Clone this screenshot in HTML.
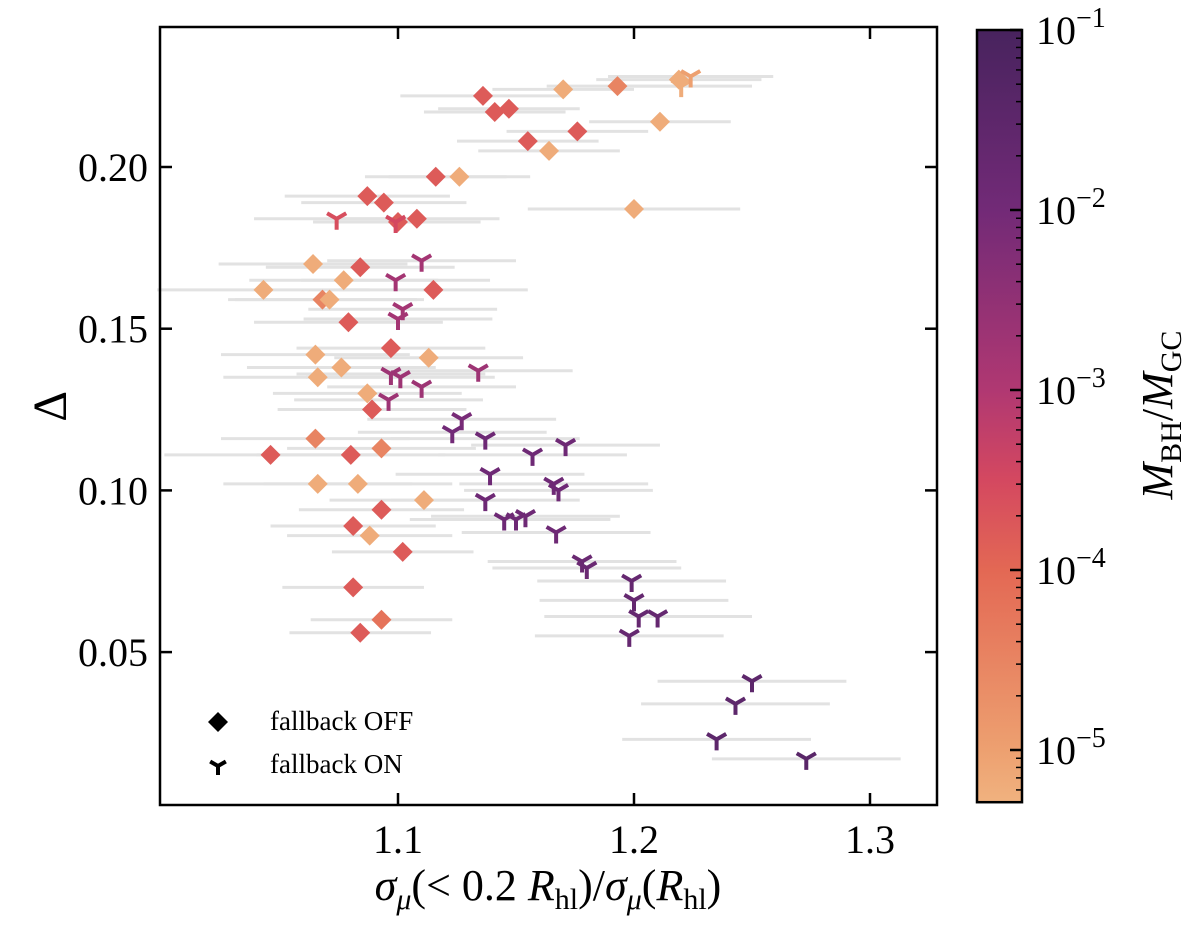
<!DOCTYPE html>
<html><head><meta charset="utf-8"><style>
body{margin:0;background:#fff}
svg text{font-family:"Liberation Serif",serif;fill:#000}
</style></head><body>
<svg id="c" width="1200" height="934" xmlns="http://www.w3.org/2000/svg"></svg>
<script>
// data: [x, y, xerr, log10(M_BH/M_GC)]
const offPts=[[1.170,0.224,0.03,-5.2],[1.136,0.222,0.035,-3.8],[1.141,0.217,0.03,-3.8],[1.147,0.218,0.03,-3.8],[1.193,0.225,0.03,-4.5],[1.219,0.227,0.035,-5.2],[1.211,0.214,0.03,-5.2],[1.155,0.208,0.03,-3.8],[1.164,0.205,0.03,-5.2],[1.176,0.211,0.03,-3.8],[1.116,0.197,0.03,-3.8],[1.126,0.197,0.03,-5.2],[1.200,0.187,0.045,-5.2],[1.087,0.191,0.035,-3.8],[1.094,0.189,0.035,-3.8],[1.100,0.183,0.035,-3.8],[1.108,0.184,0.035,-3.8],[1.064,0.170,0.04,-5.2],[1.084,0.169,0.04,-3.8],[1.077,0.165,0.04,-5.2],[1.043,0.162,0.045,-5.2],[1.068,0.159,0.04,-4.5],[1.071,0.159,0.04,-5.2],[1.115,0.162,0.04,-3.8],[1.079,0.152,0.04,-3.8],[1.097,0.144,0.04,-3.8],[1.065,0.142,0.04,-5.2],[1.076,0.138,0.04,-5.2],[1.066,0.135,0.04,-5.2],[1.113,0.141,0.04,-5.2],[1.087,0.130,0.04,-5.2],[1.089,0.125,0.04,-3.8],[1.046,0.111,0.045,-3.8],[1.065,0.116,0.04,-4.5],[1.093,0.113,0.04,-4.5],[1.080,0.111,0.04,-3.8],[1.083,0.102,0.04,-5.2],[1.066,0.102,0.04,-5.2],[1.111,0.097,0.04,-5.2],[1.093,0.094,0.035,-3.8],[1.081,0.089,0.035,-3.8],[1.088,0.086,0.035,-5.2],[1.102,0.081,0.03,-3.8],[1.081,0.070,0.03,-3.8],[1.093,0.060,0.03,-4.2],[1.084,0.056,0.03,-3.8]];
const onPts=[[1.220,0.225,0.03,-5.2],[1.224,0.228,0.035,-5.0],[1.074,0.184,0.035,-3.6],[1.099,0.183,0.035,-3.5],[1.110,0.171,0.04,-2.8],[1.099,0.165,0.04,-2.8],[1.102,0.156,0.04,-2.8],[1.100,0.153,0.04,-2.8],[1.097,0.136,0.04,-2.7],[1.101,0.135,0.04,-2.7],[1.110,0.132,0.04,-2.7],[1.134,0.137,0.04,-2.7],[1.096,0.128,0.04,-2.7],[1.127,0.122,0.04,-2.1],[1.123,0.118,0.04,-2.0],[1.137,0.116,0.04,-1.9],[1.139,0.105,0.04,-1.9],[1.157,0.111,0.04,-1.9],[1.171,0.114,0.04,-1.9],[1.166,0.102,0.04,-1.9],[1.168,0.100,0.04,-1.9],[1.137,0.097,0.04,-1.9],[1.145,0.091,0.04,-1.9],[1.150,0.091,0.04,-1.9],[1.154,0.092,0.04,-1.9],[1.167,0.087,0.04,-1.9],[1.178,0.078,0.04,-1.8],[1.180,0.076,0.04,-1.8],[1.199,0.072,0.04,-1.7],[1.200,0.066,0.04,-1.7],[1.202,0.061,0.04,-1.7],[1.210,0.061,0.04,-1.7],[1.198,0.055,0.04,-1.7],[1.250,0.041,0.04,-1.5],[1.243,0.034,0.04,-1.5],[1.235,0.023,0.04,-1.5],[1.273,0.017,0.04,-1.4]];
const xTicks=[1.1,1.2,1.3];
const yTicks=[0.05,0.10,0.15,0.20];
const cbTicks=[-5,-4,-3,-2,-1];

const svg=document.getElementById('c');
const NS='http://www.w3.org/2000/svg';
const L=160,R=937,T=27,B=805;
const X=v=>398+(v-1.1)*2360;
const Y=v=>167-(v-0.20)*3234;
const CY=v=>30+(-1-v)*180;
function el(t,a,p){const e=document.createElementNS(NS,t);for(const k in a)e.setAttribute(k,a[k]);(p||svg).appendChild(e);return e;}
const stops=[[-5.3,[240,178,127]],[-5,[237,160,112]],[-4,[227,104,84]],[-3.5,[212,72,96]],[-3,[176,56,114]],[-2,[114,42,119]],[-1,[72,35,94]]];
function col(v){if(v<=stops[0][0])return 'rgb('+stops[0][1]+')';for(let i=1;i<stops.length;i++){if(v<=stops[i][0]){const a=stops[i-1],b=stops[i],t=(v-a[0])/(b[0]-a[0]);return 'rgb('+a[1].map((c,j)=>Math.round(c+(b[1][j]-c)*t)).join(',')+')';}}return 'rgb('+stops[stops.length-1][1]+')';}

const gErr=el('g',{});
const gPts=el('g',{});
[...offPts,...onPts].forEach(p=>{
  const e=el('line',{x1:X(p[0]-p[2]),x2:X(p[0]+p[2]),y1:Y(p[1]),y2:Y(p[1]),stroke:'#e2e2e2','stroke-width':3},gErr);
  
  
});
function yMarker(x,y,c,s,g){
  return el('path',{d:`M${x},${y} L${x},${y+s} M${x},${y} L${x-s*0.87},${y-s*0.5} M${x},${y} L${x+s*0.87},${y-s*0.5}`,stroke:c,'stroke-width':4,fill:'none'},g);
}
offPts.forEach(p=>{
  const x=X(p[0]),y=Y(p[1]),s=10;
  const d=el('path',{d:`M${x},${y-s}L${x+s},${y}L${x},${y+s}L${x-s},${y}Z`,fill:col(p[3])},gPts);
  
  
});
onPts.forEach(p=>{
  const m=yMarker(X(p[0]),Y(p[1]),col(p[3]),11,gPts);
  
  
});
const fr=el('rect',{x:L,y:T,width:R-L,height:B-T,fill:'none',stroke:'#000','stroke-width':2.5});

xTicks.forEach(v=>{const x=X(v);
  el('line',{x1:x,x2:x,y1:B,y2:B-12,stroke:'#000','stroke-width':2.5});
  el('line',{x1:x,x2:x,y1:T,y2:T+12,stroke:'#000','stroke-width':2.5});
  const t=el('text',{x:x,y:B+48,'font-size':40,'text-anchor':'middle'});t.textContent=v.toFixed(1);
  });
yTicks.forEach(v=>{const y=Y(v);
  el('line',{x1:L,x2:L+12,y1:y,y2:y,stroke:'#000','stroke-width':2.5});
  el('line',{x1:R,x2:R-12,y1:y,y2:y,stroke:'#000','stroke-width':2.5});
  const t=el('text',{x:L-12,y:y+14,'font-size':40,'text-anchor':'end'});t.textContent=v.toFixed(2);
  });
const yt=el('text',{x:50,y:Y(0.126)+16,'font-size':48,'text-anchor':'middle',transform:`rotate(-90 50 ${Y(0.126)})`});yt.textContent='Δ';

const xt=el('text',{x:548,y:900,'font-size':44,'text-anchor':'middle'});
xt.innerHTML='<tspan font-style="italic">σ</tspan><tspan font-style="italic" font-size="30" dy="9">μ</tspan><tspan dy="-9">(&lt; 0.2 </tspan><tspan font-style="italic">R</tspan><tspan font-size="30" dy="9">hl</tspan><tspan dy="-9">)/</tspan><tspan font-style="italic">σ</tspan><tspan font-style="italic" font-size="30" dy="9">μ</tspan><tspan dy="-9">(</tspan><tspan font-style="italic">R</tspan><tspan font-size="30" dy="9">hl</tspan><tspan dy="-9">)</tspan>';

const lg=el('g',{});
el('path',{d:'M218,712L228,722L218,732L208,722Z',fill:'#000'},lg);
yMarker(218,766,'#000',9,lg);
const l1=el('text',{x:270,y:730,'font-size':27},lg);l1.textContent='fallback OFF';

const l2=el('text',{x:270,y:773,'font-size':27},lg);l2.textContent='fallback ON';

const defs=el('defs',{});const gr=el('linearGradient',{id:'cg',x1:0,y1:1,x2:0,y2:0},defs);
const lo=-5.29,hi=-1;
stops.forEach(s=>{const o=Math.max(0,(s[0]-lo)/(hi-lo));el('stop',{offset:o,'stop-color':'rgb('+s[1]+')'},gr);});
const cb=el('rect',{x:977,y:30,width:45,height:CY(lo)-30,fill:'url(#cg)',stroke:'#000','stroke-width':2.5});

for(let d=-6;d<=-1;d++){for(let m=1;m<10;m++){const v=d+Math.log10(m);if(v<lo||v>hi)continue;
  el('line',{x1:1022,x2:m==1?1010:1016,y1:CY(v),y2:CY(v),stroke:'#000','stroke-width':m==1?2.5:1.5});}}
cbTicks.forEach(v=>{const t=el('text',{x:1036,y:CY(v)+14,'font-size':40});
  t.innerHTML='10<tspan font-size="28" dy="-17">−'+(-v)+'</tspan>';
  });
const ct=el('text',{x:1172,y:415,'font-size':44,'text-anchor':'middle',transform:'rotate(-90 1172 415)'});
ct.innerHTML='<tspan font-style="italic">M</tspan><tspan font-size="30" dy="9">BH</tspan><tspan dy="-9">/</tspan><tspan font-style="italic">M</tspan><tspan font-size="30" dy="9">GC</tspan>';

</script>
</body></html>
